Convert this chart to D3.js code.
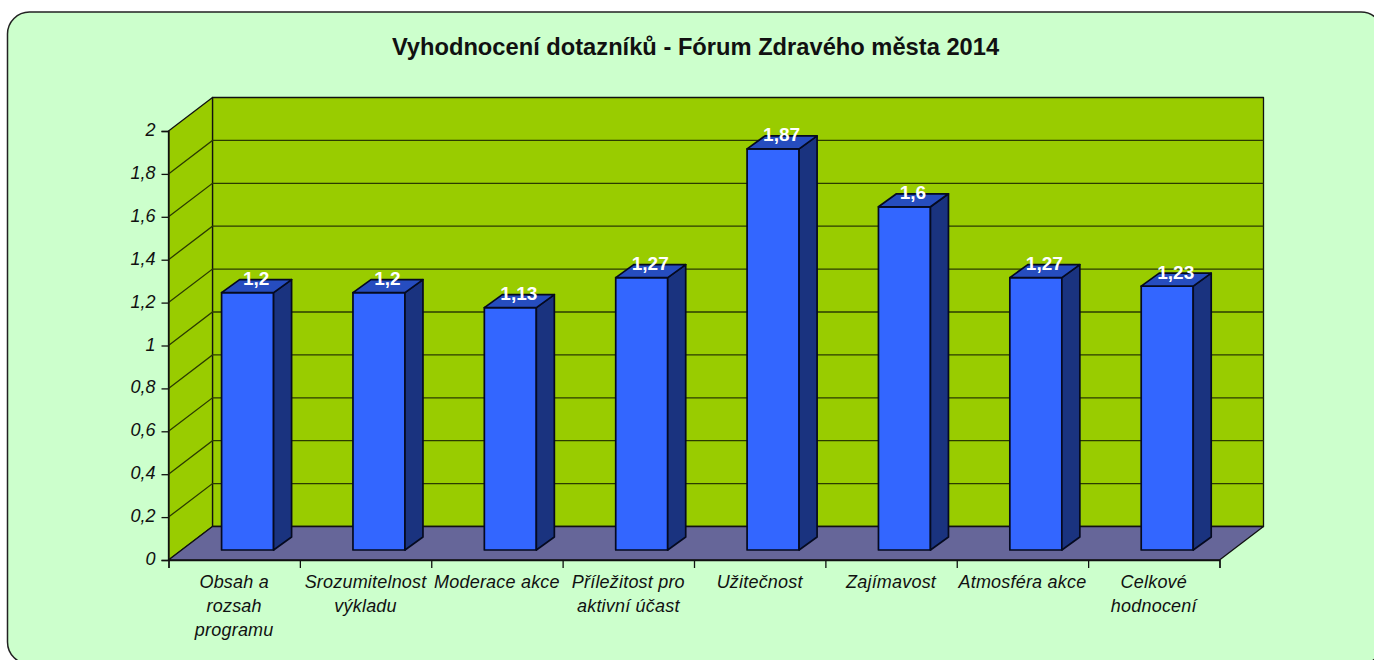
<!DOCTYPE html>
<html>
<head>
  <meta charset="utf-8">
  <script src="https://d3js.org/d3.v7.min.js"></script>
  <style>
    html, body { margin: 0; padding: 0; background: #fff; overflow: hidden; }
    svg { display: block; }
    text { font-family: "Liberation Sans", Arial, sans-serif; fill: #111; }
    .title { font-weight: bold; font-size: 23.7px; text-anchor: middle; }
    .tick text { font-style: italic; font-size: 18px; }
    .cat { font-style: italic; font-size: 18px; letter-spacing: 0.2px; text-anchor: middle; }
    .val { font-weight: bold; font-size: 19px; fill: #fff; text-anchor: middle; }
  </style>
</head>
<body>
  <svg width="1374" height="660"></svg>

  <script>
    const categories = [
      ["Obsah a", "rozsah", "programu"],
      ["Srozumitelnost", "výkladu"],
      ["Moderace akce"],
      ["Příležitost pro", "aktivní účast"],
      ["Užitečnost"],
      ["Zajímavost"],
      ["Atmosféra akce"],
      ["Celkové", "hodnocení"]
    ];
    const values = [1.2, 1.2, 1.13, 1.27, 1.87, 1.6, 1.27, 1.23];
    const valueTicks = [0, 0.2, 0.4, 0.6, 0.8, 1, 1.2, 1.4, 1.6, 1.8, 2];
    const chartTitle = "Vyhodnocení dotazníků - Fórum Zdravého města 2014";

    const svg = d3.select("svg");

    // plot box, front plane
    const plotL = 168.5, plotR = 1219.5, plotB = 560, plotT = 131;
    // depth of the box and of a bar
    const depthX = 44, depthY = 33.5;
    const barDX = 18, barDY = 13;
    const barW = 52;

    const comma = d => String(d).replace(".", ",");

    const x = d3.scaleBand().domain(d3.range(categories.length)).range([plotL, plotR]);
    const xEdges = d3.scaleLinear().domain([0, categories.length]).range([plotL, plotR]);
    const y = d3.scaleLinear().domain([0, 2]).range([plotB, plotT]);

    // background panel, runs off the right and bottom of the page
    svg.append("rect")
      .attr("x", 7.5).attr("y", 12)
      .attr("width", 1375.5).attr("height", 652)
      .attr("rx", 22).attr("ry", 22)
      .attr("fill", "#ccffcc").attr("stroke", "#222").attr("stroke-width", 1.5);

    svg.append("text").attr("class", "title")
      .attr("x", 695.5).attr("y", 55).text(chartTitle);

    function poly(points, fill, stroke, sw) {
      return svg.append("polygon")
        .attr("points", points.map(p => p.join(",")).join(" "))
        .attr("fill", fill).attr("stroke", stroke).attr("stroke-width", sw)
        .attr("stroke-linejoin", "round");
    }

    // walls and floor
    poly([[plotL + depthX, plotT - depthY], [plotR + depthX, plotT - depthY], [plotR + depthX, plotB - depthY], [plotL + depthX, plotB - depthY]], "#99cc00", "#111", 1.3);
    poly([[plotL, plotT], [plotL + depthX, plotT - depthY], [plotL + depthX, plotB - depthY], [plotL, plotB]], "#99cc00", "#111", 1.3);
    poly([[plotL, plotB], [plotL + depthX, plotB - depthY], [plotR + depthX, plotB - depthY], [plotR, plotB]], "#666699", "#111", 1.3);

    // gridlines across side wall and back wall
    const grid = svg.append("g");
    valueTicks.slice(1, -1).forEach(v => {
      grid.append("path")
        .attr("d", d3.line()([[plotL, y(v)], [plotL + depthX, y(v) - depthY], [plotR + depthX, y(v) - depthY]]))
        .attr("fill", "none").attr("stroke", "#2b3b00").attr("stroke-width", 1.3);
    });

    // axes
    const yAxis = d3.axisLeft(y).tickValues(valueTicks).tickFormat(comma).tickSize(7).tickPadding(6);
    svg.append("g").attr("transform", `translate(${plotL},0)`).call(yAxis)
      .call(g => g.selectAll("line,path").attr("stroke", "#111").attr("stroke-width", 1.3))
      .call(g => g.attr("font-size", null).attr("font-family", null))
      .call(g => g.selectAll("text").attr("fill", null).attr("dy", "0.25em"));

    const xAxis = d3.axisBottom(xEdges).tickValues(d3.range(categories.length + 1)).tickFormat("").tickSize(8);
    svg.append("g").attr("transform", `translate(0,${plotB})`).call(xAxis)
      .call(g => g.selectAll("line,path").attr("stroke", "#111").attr("stroke-width", 1.3));

    // category labels
    categories.forEach((lines, i) => {
      const t = svg.append("text").attr("class", "cat");
      lines.forEach((s, k) => {
        t.append("tspan")
          .attr("x", x(i) + x.bandwidth() / 2)
          .attr("y", 588 + k * 24)
          .text(s);
      });
    });

    // bars: floor position is a third of the way into the box
    const shiftX = depthX * 0.3 + (x.bandwidth() - barW) / 2 + 0.2;
    const base = y(0) - 10;
    const bars = svg.selectAll(".bar").data(values).enter().append("g").attr("class", "bar");

    bars.each(function (d, i) {
      const g = d3.select(this);
      const x0 = x(i) + shiftX, x1 = x0 + barW;
      const yTop = base - (y(0) - y(d));
      const draw = (pts, fill) => g.append("polygon")
        .attr("points", pts.map(p => p.join(",")).join(" "))
        .attr("fill", fill).attr("stroke", "#050a20").attr("stroke-width", 1.7)
        .attr("stroke-linejoin", "round");
      draw([[x0, yTop], [x1, yTop], [x1, base], [x0, base]], "#3366ff");
      draw([[x1, yTop], [x1 + barDX, yTop - barDY], [x1 + barDX, base - barDY], [x1, base]], "#1a337f");
      draw([[x0, yTop], [x0 + barDX, yTop - barDY], [x1 + barDX, yTop - barDY], [x1, yTop]], "#264dbf");
      g.append("text").attr("class", "val")
        .attr("x", x0 + barW / 2 + 8.5)
        .attr("y", yTop - 7.5)
        .text(comma(d));
    });
  </script>
</body>
</html>
